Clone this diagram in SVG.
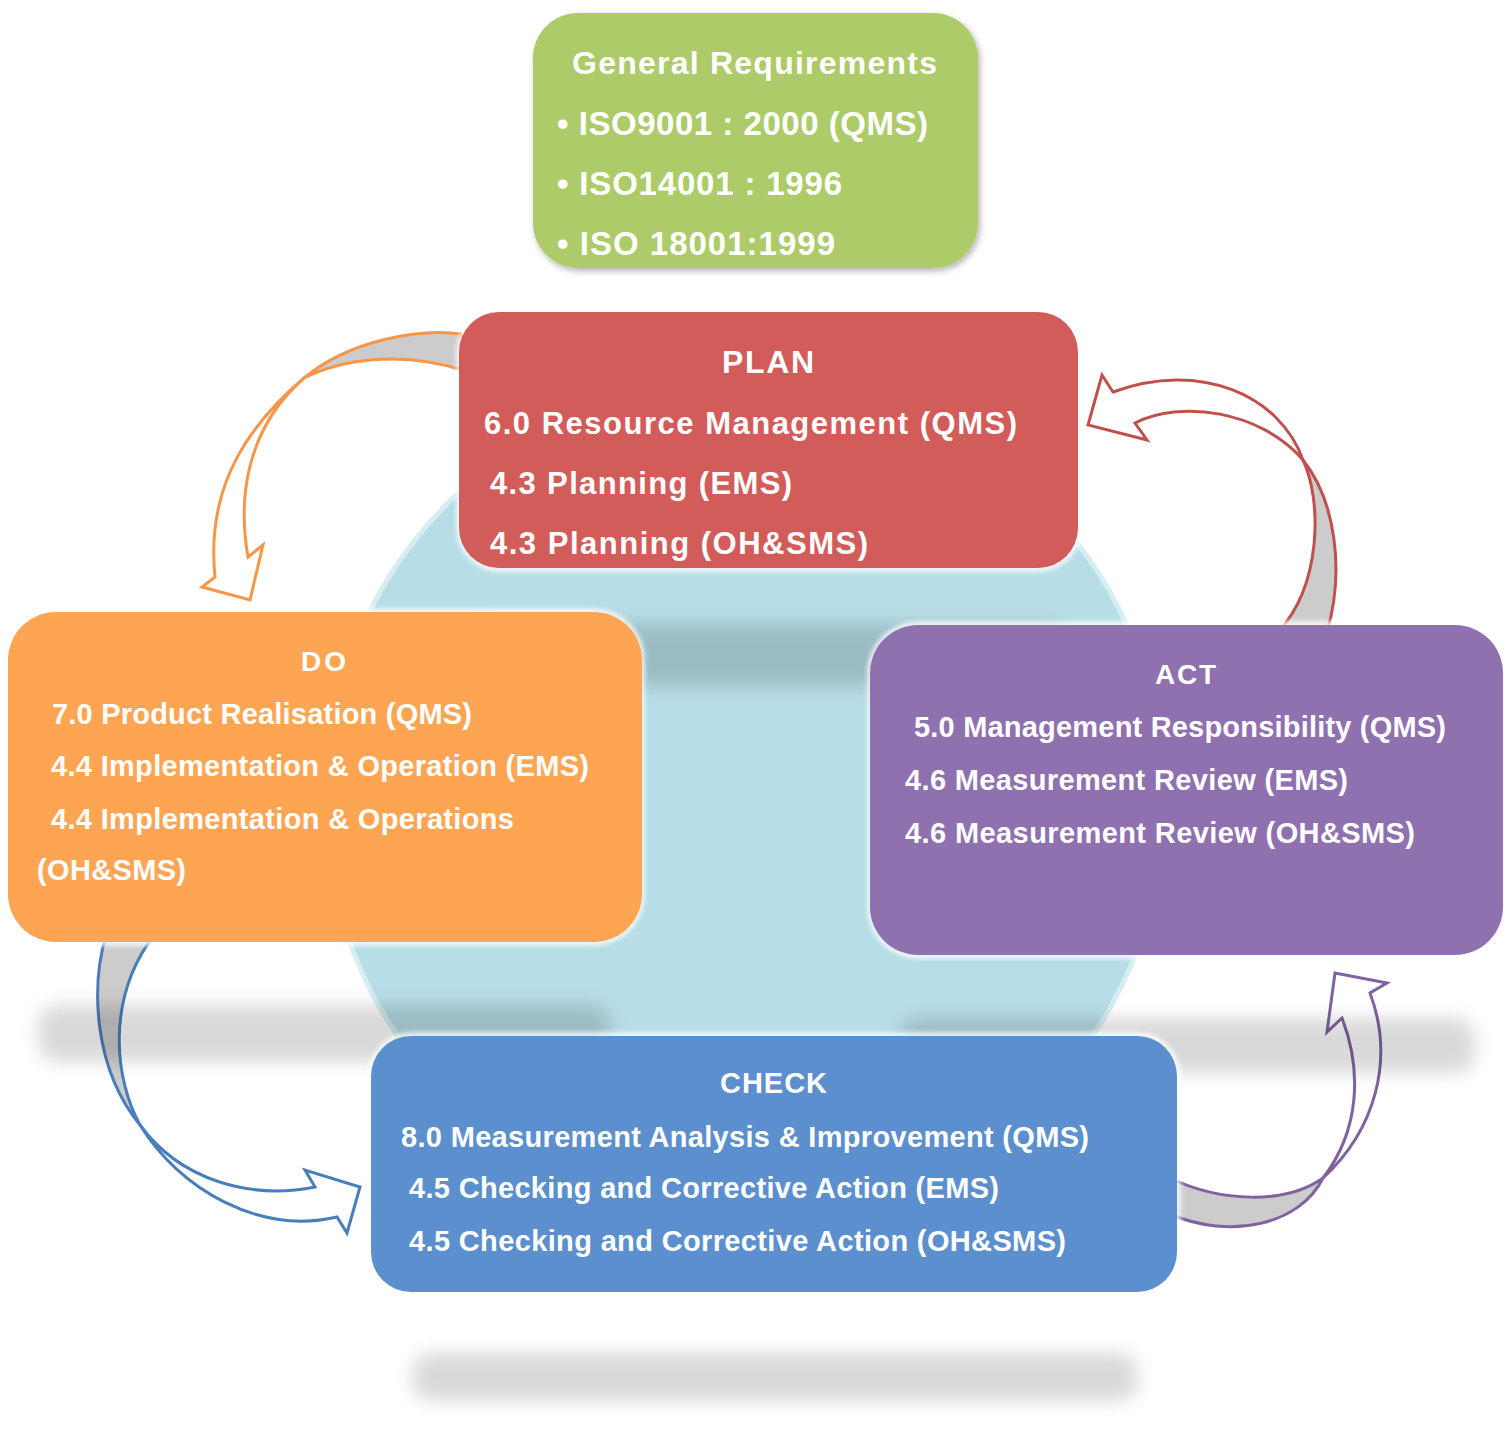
<svg xmlns="http://www.w3.org/2000/svg" width="1511" height="1430" viewBox="0 0 1511 1430">
<defs>
<style>
.t { font-family: "Liberation Sans", Arial, sans-serif; font-weight: bold; fill: #ffffff; }
.back { fill: #cccccc; stroke-width: 3; stroke-linejoin: round; }
.front { fill: #ffffff; stroke-width: 3; stroke-linejoin: miter; }
.shadow { fill: #000000; fill-opacity: 0.15; filter: url(#blur); }
.glow { fill: #ffffff; fill-opacity: 0.75; filter: url(#soft); }
</style>
<filter id="blur" x="-20%" y="-80%" width="140%" height="260%"><feGaussianBlur stdDeviation="9"/></filter>
<filter id="soft" x="-10%" y="-10%" width="120%" height="120%"><feGaussianBlur stdDeviation="2"/></filter>
<filter id="drop" x="-10%" y="-10%" width="120%" height="125%"><feDropShadow dx="2" dy="3" stdDeviation="3" flood-color="#000000" flood-opacity="0.3"/></filter>
</defs>
<rect width="1511" height="1430" fill="#ffffff"/>

<g id="hub">
<circle cx="745" cy="800" r="420" fill="#b7dde6" stroke="#d6edf2" stroke-width="5"/>
</g>

<g id="connectors">
<g id="arrow-plan-do" stroke="#f79646">
<path class="back" d="M 462,334 C 420,328 350,340 304,378 C 340,360 400,350 462,370 Z"/>
<path class="front" d="M 304,378 C 255,420 205,480 215,577 L 202,587 L 250,600 L 263,545 L 248,557 C 238,500 245,430 304,378 Z"/>
</g>
<g id="arrow-do-check" stroke="#4a7ebb">
<path class="back" d="M 106,935 C 90,990 95,1070 140,1125 C 115,1080 105,1000 154,935 Z"/>
<path class="front" d="M 140,1125 C 180,1190 260,1235 337,1217 L 347,1233 L 360,1187 L 305,1170 L 315,1187 C 250,1200 180,1180 140,1125 Z"/>
</g>
<g id="arrow-check-act" stroke="#7f63a1">
<path class="back" d="M 1170,1178 C 1220,1202 1285,1205 1323,1178 C 1300,1225 1230,1240 1170,1214 Z"/>
<path class="front" d="M 1323,1178 C 1375,1130 1395,1060 1370,993 L 1387,983 L 1335,973 L 1327,1032 L 1342,1018 C 1362,1070 1360,1130 1323,1178 Z"/>
</g>
<g id="arrow-act-plan" stroke="#c0504d">
<path class="back" d="M 1303,460 C 1322,500 1322,585 1278,632 L 1327,632 C 1345,570 1335,500 1303,460 Z"/>
<path class="front" d="M 1303,460 C 1280,395 1200,360 1113,392 L 1102,375 L 1088,425 L 1147,440 L 1135,423 C 1180,400 1260,410 1303,460 Z"/>
</g>
</g>

<g id="shadows">
<rect class="shadow" x="38" y="1005" width="572" height="57" rx="20"/>
<rect class="shadow" x="900" y="1018" width="575" height="55" rx="20"/>
<rect class="shadow" x="412" y="1353" width="726" height="48" rx="20"/>
<rect class="shadow" x="470" y="624" width="600" height="62" rx="20"/>
</g>

<g id="general-requirements">
<rect x="533" y="13" width="445" height="255" rx="45" fill="#adcb68" filter="url(#drop)"/>
<text class="t" x="572" y="74" font-size="32" textLength="365">General Requirements</text>
<text class="t" x="557" y="135" font-size="33" textLength="371">• ISO9001 : 2000 (QMS)</text>
<text class="t" x="557" y="195" font-size="33" textLength="285">• ISO14001 : 1996</text>
<text class="t" x="557" y="255" font-size="33" textLength="278">• ISO 18001:1999</text>
</g>

<g id="plan">
<rect class="glow" x="456" y="308" width="626" height="264" rx="44"/>
<rect x="459" y="312" width="619" height="256" rx="40" fill="#d25c5a"/>
<text class="t" x="722" y="373" font-size="32" textLength="92">PLAN</text>
<text class="t" x="484" y="434" font-size="31" textLength="533">6.0 Resource Management (QMS)</text>
<text class="t" x="490" y="494" font-size="31" textLength="302">4.3 Planning (EMS)</text>
<text class="t" x="490" y="554" font-size="31" textLength="378">4.3 Planning (OH&amp;SMS)</text>
</g>

<g id="do">
<rect class="glow" x="5" y="608" width="640" height="338" rx="52"/>
<rect x="8" y="612" width="634" height="330" rx="48" fill="#fda553"/>
<text class="t" x="301" y="671" font-size="28" textLength="45">DO</text>
<text class="t" x="52" y="724" font-size="29" textLength="420">7.0 Product Realisation (QMS)</text>
<text class="t" x="51" y="776" font-size="29" textLength="538">4.4 Implementation &amp; Operation (EMS)</text>
<text class="t" x="51" y="829" font-size="29" textLength="463">4.4 Implementation &amp; Operations</text>
<text class="t" x="37" y="880" font-size="29" textLength="149">(OH&amp;SMS)</text>
</g>

<g id="act">
<rect class="glow" x="867" y="621" width="640" height="338" rx="52"/>
<rect x="870" y="625" width="633" height="330" rx="48" fill="#8f71b0"/>
<text class="t" x="1155" y="684" font-size="28" textLength="61">ACT</text>
<text class="t" x="914" y="737" font-size="29" textLength="532">5.0 Management Responsibility (QMS)</text>
<text class="t" x="905" y="790" font-size="29" textLength="443">4.6 Measurement Review (EMS)</text>
<text class="t" x="905" y="843" font-size="29" textLength="510">4.6 Measurement Review (OH&amp;SMS)</text>
</g>

<g id="check">
<rect class="glow" x="368" y="1032" width="813" height="264" rx="44"/>
<rect x="371" y="1036" width="806" height="256" rx="40" fill="#5b8fce"/>
<text class="t" x="720" y="1093" font-size="29" textLength="107">CHECK</text>
<text class="t" x="401" y="1147" font-size="29" textLength="688">8.0 Measurement Analysis &amp; Improvement (QMS)</text>
<text class="t" x="409" y="1198" font-size="29" textLength="590">4.5 Checking and Corrective Action (EMS)</text>
<text class="t" x="409" y="1251" font-size="29" textLength="657">4.5 Checking and Corrective Action (OH&amp;SMS)</text>
</g>
</svg>
